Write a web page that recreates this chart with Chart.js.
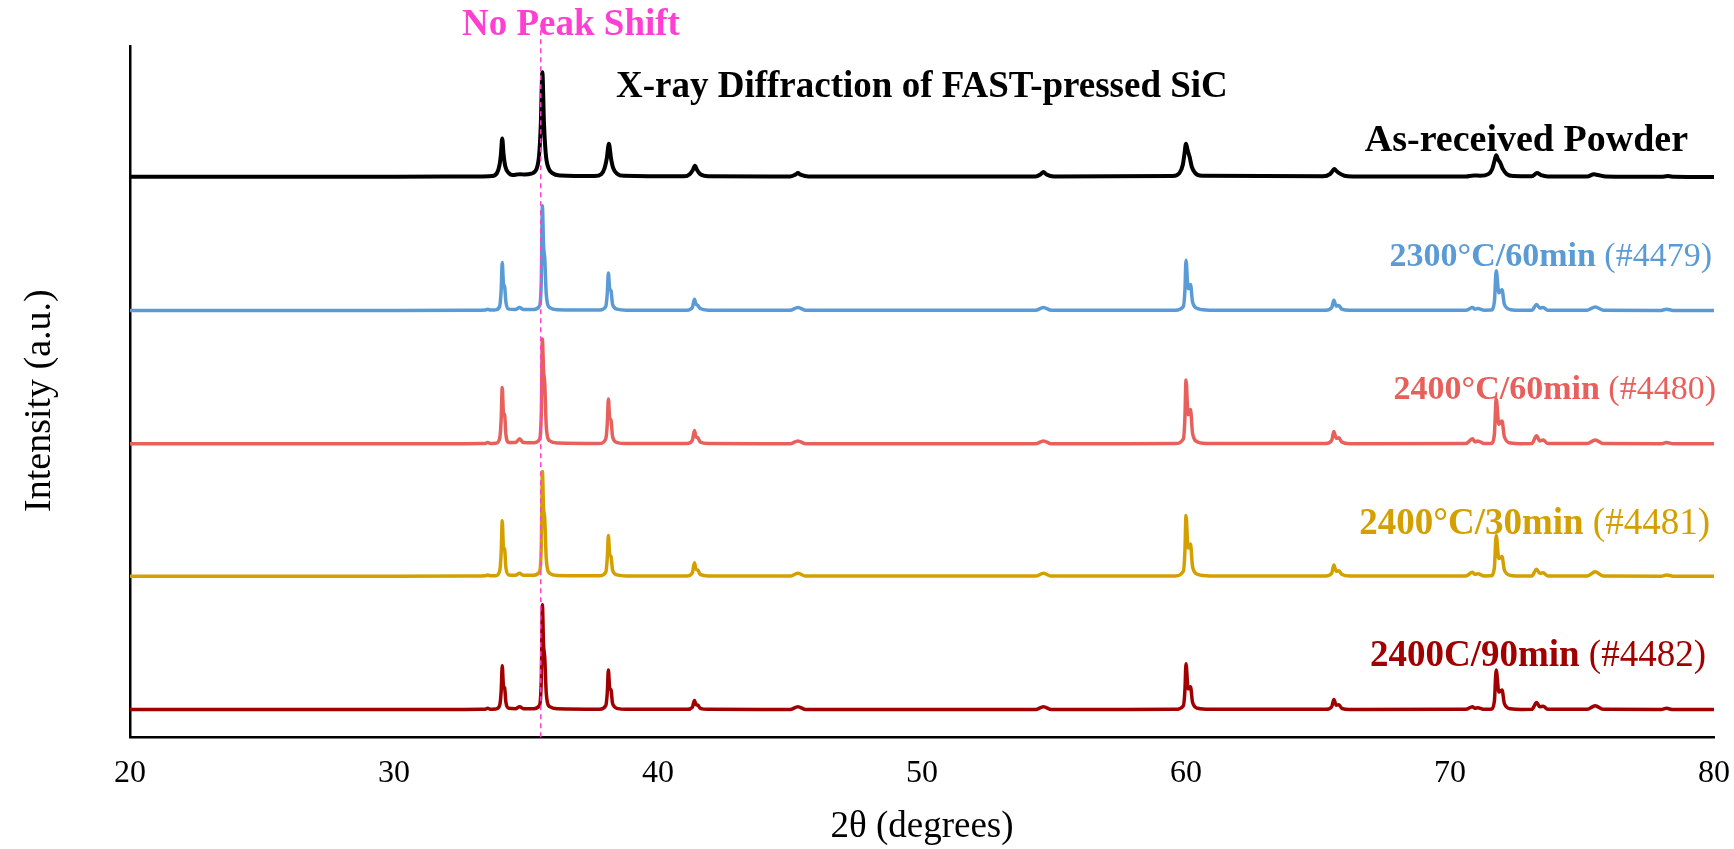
<!DOCTYPE html>
<html>
<head>
<meta charset="utf-8">
<script src="https://cdn.jsdelivr.net/npm/chart.js@4.4.1/dist/chart.umd.min.js"></script>
<style>
    html, body { margin: 0; padding: 0; background: #fff; }
    canvas { display: block; }
</style>
</head>
<body>
<canvas id="xrdChart" width="1734" height="849"></canvas>
<script>
// 2θ grid of the as-received powder trace
const powderAngles = [
    20, 25, 30, 33.2,
    33.7, 33.9, 34.0, 34.05, 34.1, 34.15, 34.22, 34.35, 34.5,
    34.65, 34.78, 34.95,
    35.2, 35.4, 35.5, 35.56, 35.62, 35.68, 35.75, 35.85, 36.0, 36.3,
    37.6, 37.85, 37.98, 38.06, 38.14, 38.22, 38.3, 38.45, 38.7,
    41.0, 41.2, 41.32, 41.4, 41.48, 41.6, 41.9,
    45.0, 45.2, 45.3, 45.4, 45.7,
    54.3, 54.5, 54.6, 54.7, 55.0,
    59.5, 59.75, 59.88, 59.94, 60.0, 60.06, 60.14, 60.22, 60.35, 60.6,
    65.2, 65.45, 65.55, 65.62, 65.7, 65.8, 66.0, 66.3,
    70.6, 70.9, 71.15,
    71.45, 71.6, 71.68, 71.75, 71.82, 71.9, 72.0, 72.15, 72.4,
    73.1, 73.3, 73.45, 73.7,
    75.2, 75.45, 75.6, 75.9,
    78.0, 78.25, 78.5, 80
];
const powder = [
    0.5, 0.5, 0.6, 0.8,
    1.2, 4, 12, 22, 37, 22, 10, 4, 2.2,
    2.6, 3, 2.6,
    3.5, 8, 22, 50, 100, 52, 22, 9, 4, 1.8,
    1.2, 3, 9, 18, 32, 18, 9, 3.5, 1.5,
    1, 3, 7, 11, 7, 3, 1,
    0.8, 2.5, 4, 2.5, 0.8,
    0.8, 3, 5, 3, 0.8,
    1.2, 4, 12, 22, 32, 26, 19, 10, 4, 1.5,
    1, 3, 6, 8, 6, 4, 1.5, 0.8,
    0.8, 1.8, 1.5,
    3, 8, 15, 21, 17, 14, 8, 3, 1.2,
    1, 4, 2, 0.8,
    0.8, 2.8, 2.2, 0.8,
    0.5, 1.2, 0.5, 0.3
];

// 2θ grid shared by the four FAST-pressed samples (Kα1 / Kα2 doublets)
const sinteredAngles = [
    20, 30, 33.3,
    33.45, 33.55, 33.65,
    33.85, 34.0, 34.06, 34.1, 34.145, 34.19, 34.24, 34.35,
    34.6, 34.76, 34.9,
    35.3, 35.5, 35.58, 35.62, 35.665, 35.71, 35.77, 35.9, 36.2,
    37.8, 38.02, 38.08, 38.12, 38.17, 38.22, 38.28, 38.45, 38.8,
    41.1, 41.3, 41.38, 41.44, 41.51, 41.6, 41.9,
    45.0, 45.3, 45.6,
    54.3, 54.6, 54.9,
    59.6, 59.9, 59.96, 60.0, 60.08, 60.17, 60.25, 60.45, 60.9,
    65.3, 65.52, 65.6, 65.69, 65.79, 65.9, 66.2,
    70.6, 70.85, 70.95, 71.05, 71.3,
    71.55, 71.68, 71.75, 71.85, 71.97, 72.06, 72.3, 72.7,
    73.1, 73.28, 73.4, 73.53, 73.7,
    75.2, 75.5, 75.8,
    78.0, 78.2, 78.45, 80
];
const s4479 = [
    0.3, 0.3, 0.5,
    0.6, 1.5, 0.6,
    0.8, 4, 20, 46, 26, 23, 8, 1.5,
    1.2, 3, 1.2,
    1.2, 4, 30, 100, 62, 50, 15, 3, 1,
    0.6, 4, 17, 36, 21, 19, 6, 1.5, 0.5,
    0.5, 3, 11, 6.5, 5, 2, 0.5,
    0.4, 3, 0.4,
    0.4, 3, 0.4,
    0.5, 4, 20, 48, 21, 25, 8, 2, 0.5,
    0.5, 3, 10, 4.5, 5, 1.5, 0.4,
    0.4, 3, 1.5, 2, 0.5,
    0.6, 8, 38, 17, 20, 6, 1, 0.4,
    0.5, 6, 2.5, 3, 0.5,
    0.5, 3.5, 0.5,
    0.3, 1.5, 0.3, 0.3
];
const s4480 = [
    0.3, 0.3, 0.5,
    0.6, 1.5, 0.6,
    0.8, 5, 24, 54, 30, 28, 9, 1.5,
    1.5, 5, 1.5,
    1.2, 4, 30, 100, 70, 58, 16, 3, 1,
    0.6, 5, 20, 43, 25, 23, 7, 1.5, 0.5,
    0.5, 3.5, 13, 7, 6, 2, 0.5,
    0.4, 3, 0.4,
    0.4, 3, 0.4,
    0.5, 5, 26, 61, 28, 33, 10, 2, 0.5,
    0.5, 3.5, 12, 5.5, 6, 2, 0.4,
    0.5, 5, 2, 3, 0.5,
    0.6, 9, 43, 19, 22, 7, 1, 0.4,
    0.5, 8, 3, 4, 0.5,
    0.5, 4, 0.5,
    0.3, 1.5, 0.3, 0.3
];
const s4481 = [
    0.3, 0.3, 0.5,
    0.6, 1.5, 0.6,
    0.8, 5, 23, 53, 28, 26, 8, 1.5,
    1.2, 3, 1.2,
    1.2, 4, 30, 100, 65, 55, 16, 3, 1,
    0.6, 4, 18, 39, 21, 19, 6, 1.5, 0.5,
    0.5, 3.5, 13, 7, 6, 2, 0.5,
    0.4, 3, 0.4,
    0.4, 3, 0.4,
    0.5, 5, 25, 58, 27, 31, 9, 2, 0.5,
    0.5, 3, 11, 5, 5.5, 2, 0.4,
    0.5, 4, 2, 2.5, 0.5,
    0.6, 8, 39, 17, 19, 6, 1, 0.4,
    0.5, 7, 3, 3.5, 0.5,
    0.5, 4.5, 0.5,
    0.3, 1.5, 0.3, 0.3
];
const s4482 = [
    0.3, 0.3, 0.5,
    0.6, 1.5, 0.6,
    0.8, 4, 18, 42, 23, 21, 7, 1.5,
    1.2, 3, 1.2,
    1.2, 4, 30, 100, 62, 50, 15, 3, 1,
    0.6, 4, 17, 38, 21, 19, 6, 1.5, 0.5,
    0.5, 2.5, 9, 5, 4.5, 1.5, 0.5,
    0.4, 3, 0.4,
    0.4, 3, 0.4,
    0.5, 4, 19, 44, 20, 22, 7, 1.5, 0.5,
    0.5, 3, 10, 4.5, 5, 1.5, 0.4,
    0.5, 3, 1.5, 2, 0.5,
    0.6, 8, 38, 17, 19, 6, 1, 0.4,
    0.5, 7, 3, 3.5, 0.5,
    0.5, 4, 0.5,
    0.3, 1.5, 0.3, 0.3
];

const sampleNames = ['As-received Powder', '2300°C/60min', '2400°C/60min', '2400°C/30min', '2400C/90min'];
const sampleIds = ['', '(#4479)', '(#4480)', '(#4481)', '(#4482)'];
const verticalOffsets = [533, 406, 279, 153, 26];   // stacking of the traces (a.u.)
const peakShiftLine = 35.56;                          // 2θ of the dashed reference line
const xTicks = [20, 30, 40, 50, 60, 70, 80];

const colors = ['#000000', '#5B9BD5', '#E8605C', '#D4A000', '#A00000'];
const magenta = '#FF3FD4';
const serif = '"Liberation Serif", "Times New Roman", serif';

const traces = [
    [powderAngles, powder],
    [sinteredAngles, s4479],
    [sinteredAngles, s4480],
    [sinteredAngles, s4481],
    [sinteredAngles, s4482]
];
traces.forEach(([xs, ys], i) => {
    if (xs.length !== ys.length) console.error('length mismatch in trace ' + i, xs.length, ys.length);
});

// labels at right of each trace, offsets in px from (80, trace baseline)
const labelDx = [-26, -2, 2, -4, -8];
const labelDy = [-26, -45, -45, -42, -44];
const labelSize = [38, 34, 34, 37, 37];

const textLayer = {
    id: 'textLayer',
    afterDatasetsDraw(chart) {
        const { ctx, chartArea, scales: { x, y } } = chart;
        ctx.save();
        ctx.textBaseline = 'alphabetic';
        sampleNames.forEach((name, i) => {
            const right = x.getPixelForValue(80) + labelDx[i];
            const base = y.getPixelForValue(verticalOffsets[i]) + labelDy[i];
            const id = sampleIds[i] ? ' ' + sampleIds[i] : '';
            ctx.fillStyle = colors[i];
            ctx.textAlign = 'right';
            ctx.font = labelSize[i] + 'px ' + serif;
            ctx.fillText(id, right, base);
            const w = id ? ctx.measureText(id).width : 0;
            ctx.font = 'bold ' + labelSize[i] + 'px ' + serif;
            ctx.fillText(name, right - w, base);
        });
        ctx.textAlign = 'left';
        ctx.font = 'bold 37px ' + serif;
        ctx.fillStyle = '#000';
        ctx.fillText('X-ray Diffraction of FAST-pressed SiC', chartArea.left + 486, 97);
        ctx.fillStyle = magenta;
        ctx.fillText('No Peak Shift', chartArea.left + 332, 35);

        // y axis title, sits a little below the plot centre in the original
        ctx.fillStyle = '#000';
        ctx.font = '38px ' + serif;
        ctx.textAlign = 'center';
        ctx.textBaseline = 'middle';
        ctx.translate(40, (chartArea.top + chartArea.bottom) / 2 + 9);
        ctx.rotate(-Math.PI / 2);
        ctx.fillText('Intensity (a.u.)', 0, 0);
        ctx.restore();
    }
};

Chart.defaults.font.family = serif;
Chart.defaults.color = '#000';

const datasets = [{
    // dashed "no peak shift" marker, drawn on top
    data: [{ x: peakShiftLine, y: 0 }, { x: peakShiftLine, y: 678 }],
    borderColor: magenta,
    borderWidth: 1.5,
    borderDash: [5, 4],
    pointRadius: 0,
    clip: false
}];
traces.forEach(([xs, ys], i) => {
    datasets.push({
        label: sampleNames[i],
        data: xs.map((a, k) => ({ x: a, y: ys[k] + verticalOffsets[i] })),
        borderColor: colors[i],
        borderWidth: i === 0 ? 4 : 3.5,
        pointRadius: 0,
        cubicInterpolationMode: 'monotone',
        borderJoinStyle: 'round',
        borderCapStyle: 'round'
    });
});

const ctx = document.getElementById('xrdChart').getContext('2d');
new Chart(ctx, {
    type: 'line',
    data: { datasets },
    plugins: [textLayer],
    options: {
        responsive: false,
        animation: false,
        devicePixelRatio: 1,
        layout: { padding: { left: 130, right: 20, top: 46, bottom: 0 } },
        plugins: {
            legend: { display: false },
            tooltip: { enabled: false }
        },
        scales: {
            x: {
                type: 'linear',
                min: 20,
                max: 80,
                afterBuildTicks: axis => { axis.ticks = xTicks.map(v => ({ value: v })); },
                ticks: { font: { size: 32 }, color: '#000', padding: 0 },
                // invisible tick marks only to space the labels from the axis
                grid: { display: true, drawOnChartArea: false, drawTicks: true, tickLength: 17, color: 'rgba(0,0,0,0)' },
                border: { display: true, color: '#000', width: 2.5 },
                title: {
                    display: true,
                    text: '2θ (degrees)',
                    font: { size: 37 },
                    color: '#000',
                    padding: { top: 12, bottom: 0 }
                }
            },
            y: {
                min: 0,
                max: 658,
                ticks: { display: false },
                grid: { display: false, drawTicks: false },
                border: { display: true, color: '#000', width: 2.5 },
                title: { display: false }
            }
        }
    }
});
</script>
</body>
</html>
